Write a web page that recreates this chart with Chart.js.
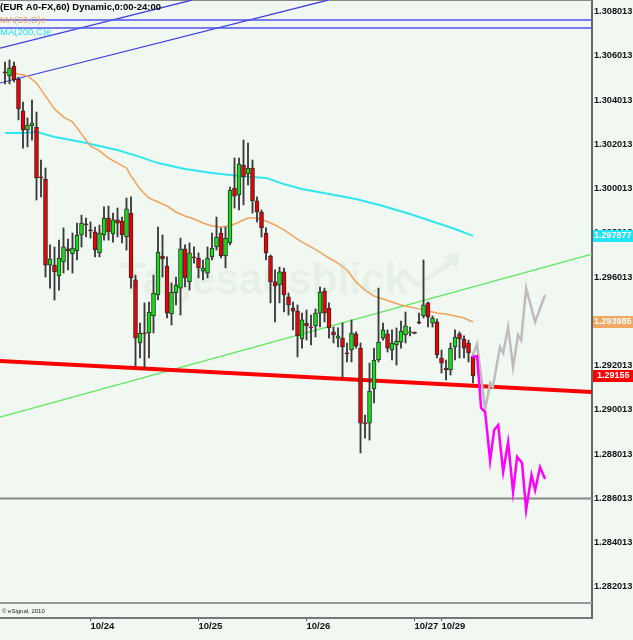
<!DOCTYPE html>
<html><head><meta charset="utf-8">
<script src="https://cdn.jsdelivr.net/npm/chart.js@4/dist/chart.umd.min.js"></script>
<style>html,body{margin:0;padding:0;background:#f1f8f1;}canvas{display:block;}</style>
</head><body>
<canvas id="c" width="633" height="640"></canvas>
<script>
// ---------- DATA (hourly EUR/USD bars, index 0..104) ----------
const opens = [
1.30529,1.30511,1.30556,1.30497,1.30353,1.30267,1.30285,1.3028,1.30054,1.30045,
1.29656,1.29656,1.29607,1.2967,1.29729,1.29706,1.2972,1.29792,1.29842,1.29815,
1.29806,1.29711,1.29792,1.29869,1.29797,1.2986,1.29855,1.29783,1.29891,1.29589,
1.29304,1.29349,1.29349,1.29426,1.29521,1.29697,1.29652,1.29435,1.2953,1.29552,
1.29729,1.2958,1.29693,1.29688,1.29629,1.2962,1.29693,1.29738,1.29801,1.29697,
1.29756,1.30004,1.29973,1.30108,1.30068,1.30095,1.29946,1.29896,1.29801,1.29697,
1.2958,1.29566,1.29625,1.29512,1.29462,1.29448,1.29322,1.29394,1.29376,1.29381,
1.29439,1.29539,1.29462,1.29354,1.29326,1.29326,1.29259,1.29272,1.29345,1.29281,
1.28942,1.28942,1.29096,1.29227,1.29326,1.29345,1.29272,1.29295,1.29308,1.2934,
1.29349,1.29349,1.29399,1.29426,1.29485,1.29394,1.29399,1.29236,1.29191,1.29182,
1.29286,1.29345,1.29322,1.29304,1.29245];
const highs = [
1.30574,1.30583,1.30574,1.30506,1.30393,1.30321,1.30402,1.30348,1.30131,1.30095,
1.29747,1.29738,1.29769,1.29824,1.29774,1.29801,1.29846,1.29882,1.29869,1.29851,
1.29828,1.29837,1.29919,1.29923,1.29891,1.29914,1.29873,1.29959,1.29964,1.29611,
1.29394,1.29485,1.29489,1.29611,1.29828,1.29792,1.29693,1.29575,1.29602,1.29778,
1.29747,1.29756,1.29738,1.29711,1.29679,1.29738,1.29801,1.29873,1.29824,1.29828,
1.30009,1.3014,1.3014,1.30221,1.30208,1.30131,1.29964,1.29905,1.29824,1.29702,
1.29634,1.29647,1.29643,1.2953,1.29489,1.29476,1.29439,1.29453,1.2943,1.29458,
1.29557,1.29552,1.29485,1.29376,1.29372,1.29394,1.29304,1.29408,1.29354,1.29304,
1.28978,1.29213,1.29281,1.29552,1.29394,1.29363,1.29363,1.29372,1.29403,1.29444,
1.29376,1.29354,1.29439,1.29679,1.29489,1.29426,1.29412,1.29272,1.29227,1.29304,
1.29363,1.29354,1.29336,1.29317,1.29254];
const lows = [
1.30475,1.30475,1.30484,1.30312,1.30185,1.3019,1.30221,1.2995,1.29964,1.29602,
1.29552,1.29498,1.29543,1.2962,1.29634,1.2962,1.29679,1.29738,1.29783,1.29778,
1.29693,1.29693,1.29769,1.29769,1.2976,1.29783,1.29756,1.29724,1.29552,1.292,
1.29236,1.29191,1.29236,1.29349,1.29498,1.29602,1.29417,1.29385,1.29476,1.2943,
1.29557,1.29543,1.29665,1.29598,1.29589,1.29598,1.29679,1.29724,1.29688,1.29643,
1.29747,1.29914,1.29905,1.29928,1.30018,1.29891,1.29851,1.29783,1.29679,1.29485,
1.29399,1.29485,1.29444,1.2943,1.29363,1.29241,1.29281,1.29317,1.29295,1.29331,
1.29376,1.29399,1.29326,1.29304,1.29286,1.29146,1.29218,1.29218,1.29281,1.28807,
1.28874,1.28865,1.29033,1.29218,1.29317,1.29263,1.29227,1.29204,1.29281,1.29304,
1.29336,1.29345,1.2939,1.29417,1.29376,1.29376,1.29236,1.29168,1.29137,1.29159,
1.29227,1.29236,1.29236,1.29218,1.29123];
const closes = [
1.30524,1.30547,1.30493,1.30362,1.30267,1.30289,1.30298,1.3005,1.3005,1.29656,
1.29684,1.29625,1.29688,1.29738,1.2972,1.29733,1.29792,1.29846,1.29837,1.2981,
1.29724,1.29801,1.29869,1.29806,1.2986,1.29846,1.29792,1.2991,1.29598,1.29326,
1.29349,1.29345,1.29444,1.2953,1.29715,1.29684,1.29439,1.29534,1.29566,1.29729,
1.29598,1.29711,1.29688,1.29643,1.29643,1.29688,1.29733,1.29783,1.29697,1.29778,
1.29995,1.29968,1.30113,1.30054,1.30095,1.29946,1.29896,1.29824,1.29711,1.2958,
1.29561,1.29625,1.29521,1.29476,1.29448,1.29336,1.29408,1.29381,1.29372,1.29439,
1.29534,1.29439,1.29372,1.2934,1.29336,1.29286,1.29254,1.29349,1.2929,1.28942,
1.28938,1.29087,1.29227,1.29308,1.29363,1.29281,1.29304,1.29313,1.29358,1.29381,
1.29354,1.29347,1.29394,1.29476,1.29421,1.29417,1.2925,1.29213,1.29182,1.29281,
1.29331,1.29322,1.29281,1.29259,1.29155];

// moving averages (bar index, value)
const ma50Idx = [2,5,7,9,11,13,15,17,19,21,23,25,27,28,30,32,34,36,38,40,42,44,46,48,50,52,54,56,58,60,62,64,66,68,70,72,74,76,78,80,82,84,86,88,90,92,94,96,98,100,102,104];
const ma50Val = [1.30524,1.30511,1.30479,1.3042,1.30362,1.30325,1.30303,1.30249,1.30194,1.30172,
1.3014,1.30117,1.30095,1.30059,1.3,1.29959,1.29941,1.29923,1.29896,1.29878,
1.29864,1.29846,1.29833,1.29828,1.29833,1.29851,1.29869,1.29869,1.29855,1.29837,
1.29815,1.29787,1.2976,1.29738,1.29715,1.29688,1.29665,1.29634,1.2958,1.29543,
1.29516,1.29503,1.29489,1.29476,1.29467,1.29458,1.29448,1.29439,1.29435,1.29426,
1.29417,1.29399];
const ma200Idx = [0,4,7,11,17,25,30,34,40,46,52,58,62,66,72,78,84,90,96,100,104];
const ma200Val = [1.30253,1.30253,1.30258,1.30235,1.30212,1.30176,1.30145,1.30117,1.3009,1.30072,1.30059,1.3005,1.30022,1.3,1.29977,1.29955,1.29923,1.29887,1.29846,1.29819,1.29788];

// hand-drawn projections
const grayIdx = [103.8,104.9,106.7,107.8,108.4,110,110.7,111.8,112.9,114,114.7,115.8,117.8,120];
const grayVal = [1.29241,1.29299,1.29001,1.29123,1.29105,1.29286,1.29259,1.29376,1.29195,1.2934,1.29317,1.29552,1.29399,1.29521];
const magIdx = [103.8,104.9,105.8,106.7,107.8,108.7,109.6,110.7,111.8,112.9,113.8,114.9,115.8,117,117.8,118.9,120];
const magVal = [1.29241,1.29245,1.2901,1.28992,1.28771,1.28911,1.28933,1.28721,1.28856,1.2863,1.28789,1.28761,1.28549,1.28707,1.28639,1.28743,1.28689];

// trend lines (bar index, price)
const xMin = -1.11, xMax = 130.44;
const yMin = 1.280608, yMax = 1.308542;
const blueAIdx = [xMin, 41.56], blueAVal = [1.30637, 1.30854];
const blueBIdx = [xMin, 71.78], blueBVal = [1.30479, 1.30854];
const redIdx = [xMin, xMax], redVal = [1.29223, 1.29082];
const greenIdx = [xMin, xMax], greenVal = [1.28969, 1.29706];
const blueLevels = [1.30764, 1.30728];
const grayLevel = 1.286013;

// axis ticks
const tickIdx = [19, 43, 67, 91, 97];
const tickLabels = ['10/24', '10/25', '10/26', '10/27', '10/29'];
const yTicks = [1.282013,1.284013,1.286013,1.288013,1.290013,1.292013,1.294013,1.296013,1.298013,1.300013,1.302013,1.304013,1.306013,1.308013];

// price tags on the right axis
const tagValues = [1.297877, 1.293985, 1.29155];
const tagTexts = ['1.297877', '1.293985', '1.29155'];
const tagColors = ['#22e4f2', '#f2a862', '#ff0000'];

// ---------- STYLE ----------
const BG = '#f1f8f1';
const FONT = "'Liberation Sans', Arial, sans-serif";
const GREEN = '#14e014', RED = '#ee0000';

const pts = (xs, ys) => xs.map((x, i) => ({x: x, y: ys[i]}));
const lineDs = (data, color, width, order) => ({type: 'line', data, borderColor: color, borderWidth: width,
  pointRadius: 0, pointHoverRadius: 0, fill: false, tension: 0, order: order});

const bodies = opens.map((o, i) => ({x: i, y: [o, closes[i]]}));
const wicks = lows.map((l, i) => ({x: i, y: [l, highs[i]]}));
const bodyColors = opens.map((o, i) => closes[i] >= o ? GREEN : RED);

const datasets = [
  lineDs(pts([xMin, xMax], [grayLevel, grayLevel]), '#8a8a8a', 2, 20),
  lineDs(pts([xMin, xMax], [blueLevels[0], blueLevels[0]]), '#5050f0', 1.5, 20),
  lineDs(pts([xMin, xMax], [blueLevels[1], blueLevels[1]]), '#5050f0', 1.5, 20),
  lineDs(pts(blueAIdx, blueAVal), '#3c3ce0', 1.2, 20),
  lineDs(pts(blueBIdx, blueBVal), '#3c3ce0', 1.2, 20),
  lineDs(pts(greenIdx, greenVal), '#5ae85a', 1.2, 19),
  lineDs(pts(redIdx, redVal), '#ff0000', 4, 18),
  lineDs(pts(ma200Idx, ma200Val), '#2ee6f0', 2, 17),
  lineDs(pts(ma50Idx, ma50Val), '#f2a35a', 1.5, 16),
  {type: 'bar', data: wicks, backgroundColor: '#3a3a3a', borderWidth: 0, barThickness: 1.2, grouped: false, order: 2},
  {type: 'bar', data: bodies, backgroundColor: bodyColors, borderColor: '#2a2a2a', borderWidth: 1,
   borderSkipped: false, barThickness: 4, minBarLength: 1, grouped: false, order: 1},
  lineDs(pts(grayIdx, grayVal), '#bdbdbd', 2.5, 0),
  lineDs(pts(magIdx, magVal), '#ff00ff', 2.5, -1)
];

const deco = {
  id: 'deco',
  beforeDraw(chart) {
    const ctx = chart.ctx;
    ctx.save(); ctx.fillStyle = BG; ctx.fillRect(0, 0, chart.width, chart.height); ctx.restore();
  },
  beforeDatasetsDraw(chart) {
    const ctx = chart.ctx;
    ctx.save();
    ctx.fillStyle = '#e7f0e6';
    ctx.strokeStyle = '#e7f0e6';
    ctx.font = 'bold 45px ' + FONT;
    ctx.textBaseline = 'alphabetic';
    ctx.fillText('Tagesausblick', 120, 294, 288);
    ctx.font = 'bold 9px ' + FONT;
    ctx.fillText('de', 420, 292);
    ctx.lineWidth = 5; ctx.lineJoin = 'round';
    ctx.beginPath(); ctx.moveTo(404, 272); ctx.lineTo(417, 285); ctx.lineTo(453, 261); ctx.stroke();
    ctx.beginPath(); ctx.moveTo(443, 256); ctx.lineTo(460, 253); ctx.lineTo(457, 269); ctx.closePath(); ctx.fill();
    // frame lines
    const a = chart.chartArea;
    ctx.strokeStyle = '#999'; ctx.lineWidth = 2;
    ctx.beginPath(); ctx.moveTo(a.left, 603); ctx.lineTo(a.right, 603); ctx.stroke();
    ctx.strokeStyle = '#888'; ctx.lineWidth = 1;
    ctx.beginPath(); ctx.moveTo(a.left, 0.5); ctx.lineTo(a.right, 0.5); ctx.stroke();
    ctx.restore();
  },
  afterDraw(chart) {
    const ctx = chart.ctx;
    const y = chart.scales.y;
    ctx.save();
    ctx.textBaseline = 'middle';
    ctx.textAlign = 'left';
    ctx.font = 'bold 9.5px ' + FONT;
    ctx.fillStyle = '#000';
    ctx.fillText('(EUR A0-FX,60) Dynamic,0:00-24:00', 0, 7);
    ctx.font = '9.5px ' + FONT;
    ctx.fillStyle = '#f2a35a';
    ctx.fillText('MA(50,C)e', 0, 20);
    ctx.fillStyle = '#22e0f0';
    ctx.fillText('MA(200,C)e', 0, 32);
    ctx.font = '6px ' + FONT;
    ctx.fillStyle = '#222';
    ctx.fillText('\u00a9 eSignal, 2010', 2, 611);
    ctx.font = 'bold 9px ' + FONT;
    tagValues.forEach((v, i) => {
      const py = y.getPixelForValue(v);
      ctx.fillStyle = tagColors[i];
      ctx.fillRect(593, Math.round(py) - 6, 40, 12);
      ctx.fillStyle = '#fff';
      ctx.fillText(tagTexts[i], i === 2 ? 597 : 594, Math.round(py));
    });
    ctx.restore();
  }
};

new Chart(document.getElementById('c'), {
  type: 'bar',
  data: {datasets},
  plugins: [deco],
  options: {
    responsive: false, animation: false, devicePixelRatio: 1,
    layout: {padding: 0},
    events: [],
    plugins: {legend: {display: false}, tooltip: {enabled: false}},
    scales: {
      x: {
        type: 'linear', min: xMin, max: xMax, offset: false, position: 'bottom',
        grid: {display: true, drawOnChartArea: false, drawTicks: true, tickLength: 3, color: '#555', offset: false},
        border: {display: true, color: '#777', width: 2},
        ticks: {align: 'start', padding: 0, maxRotation: 0, autoSkip: false, color: '#111',
          font: {family: FONT, size: 9.5, weight: 'bold'},
          callback: (v) => { const k = tickIdx.indexOf(v); return k >= 0 ? tickLabels[k] : ''; }},
        afterBuildTicks: (s) => { s.ticks = tickIdx.map(v => ({value: v})); },
        afterFit: (s) => { s.height = 22; s.paddingLeft = 0; s.paddingRight = 0; }
      },
      y: {
        type: 'linear', position: 'right', min: yMin, max: yMax, beginAtZero: false,
        grid: {display: false, drawTicks: false},
        border: {display: true, color: '#666', width: 2},
        ticks: {padding: 2, autoSkip: false, color: '#111',
          font: {family: FONT, size: 9.2, weight: 'bold'},
          callback: (v) => Number(v).toFixed(6)},
        afterBuildTicks: (s) => { s.ticks = yTicks.map(v => ({value: v})); },
        afterFit: (s) => { s.width = 41; s.paddingTop = 0; s.paddingBottom = 0; }
      }
    }
  }
});
</script>
</body></html>
